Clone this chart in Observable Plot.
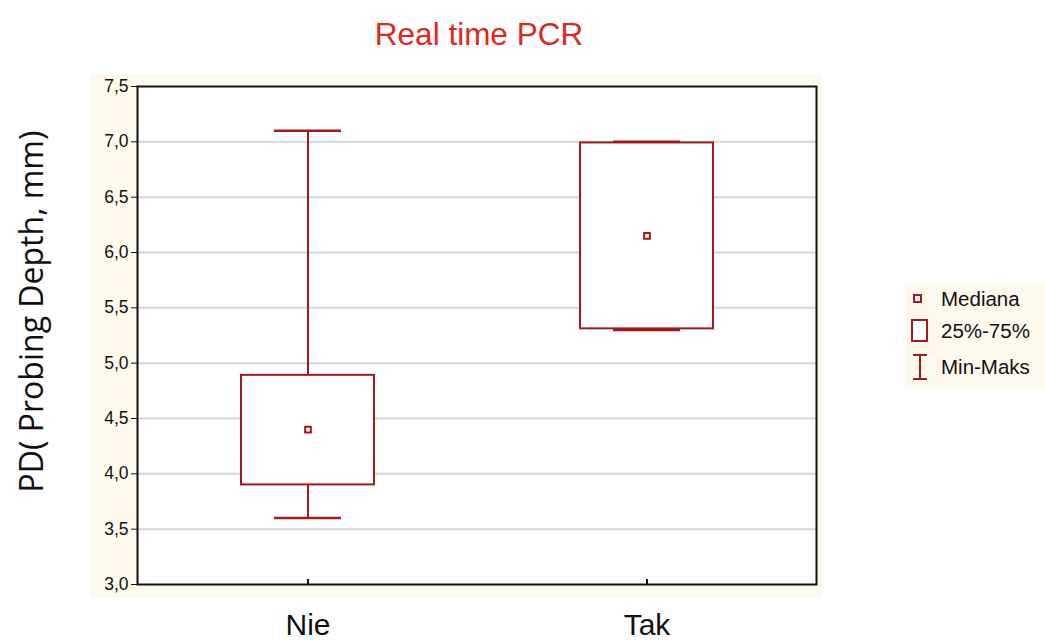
<!DOCTYPE html>
<html>
<head>
<meta charset="utf-8">
<script src="https://cdn.jsdelivr.net/npm/d3@7"></script>
<script src="https://cdn.jsdelivr.net/npm/@observablehq/plot@0.6"></script>
<style>
  html, body { margin: 0; padding: 0; background: #fff; }
  #wrap { position: relative; width: 1045px; height: 640px; }
  #legend {
    position: absolute; left: 905px; top: 283px; width: 140px; height: 106px;
    background: #fdf9ec; font-family: "Liberation Sans", Arial, sans-serif;
    font-size: 20.5px; color: #111;
  }
  #legend .item { position: absolute; left: 0; display: flex; align-items: center; }
  #legend svg { display: block; }
</style>
</head>
<body>
<div id="wrap">
  <div id="chart"></div>
  <div id="legend"></div>
</div>
<script>
// Groups and five-number summaries of PD (probing depth, mm)
const groups  = ["Nie", "Tak"];
const mins    = [3.6, 5.3];
const q1s     = [3.9, 5.31];
const medians = [4.4, 6.15];
const q3s     = [4.89, 6.99];
const maxs    = [7.1, 7.0];
const yTicks  = [3.0, 3.5, 4.0, 4.5, 5.0, 5.5, 6.0, 6.5, 7.0, 7.5];

const title  = "Real time PCR";
const yLabel = "PD( Probing Depth, mm)";
const legendLabels = ["Mediana", "25%-75%", "Min-Maks"];

const data = groups.map((g, i) => ({
  group: g, min: mins[i], q1: q1s[i], median: medians[i], q3: q3s[i], max: maxs[i]
}));

const red = "#a01a1d";
const fmt = d => d.toFixed(1).replace(".", ",");

const chart = Plot.plot({
  width: 1045,
  height: 640,
  marginLeft: 137,
  marginRight: 229,
  marginTop: 86,
  marginBottom: 56,
  style: { fontFamily: "'Liberation Sans', Arial, sans-serif", background: "transparent" },
  x: { domain: groups, type: "band", paddingInner: 0.608, paddingOuter: 0.304, align: 0.5 },
  y: { domain: [3, 7.5] },
  marks: [
    // cream panel behind the plot area
    Plot.frame({ fill: "#fdf9ec", insetLeft: -47, insetTop: -12, insetRight: -6, insetBottom: -13 }),
    Plot.frame({ fill: "white" }),
    Plot.gridY(yTicks.filter(t => t > 3 && t < 7.5), { stroke: "#d6d6d6", strokeOpacity: 1, strokeWidth: 2 }),
    // whiskers
    Plot.ruleX(data, { x: "group", y1: "min", y2: "q1", stroke: red, strokeWidth: 2 }),
    Plot.ruleX(data, { x: "group", y1: "q3", y2: "max", stroke: red, strokeWidth: 2 }),
    Plot.tickY(data, { x: "group", y: "min", stroke: red, strokeWidth: 2.5, insetLeft: 33, insetRight: 33 }),
    Plot.tickY(data, { x: "group", y: "max", stroke: red, strokeWidth: 2.5, insetLeft: 33, insetRight: 33 }),
    // interquartile boxes
    Plot.barY(data, { x: "group", y1: "q1", y2: "q3", fill: "white", stroke: red, strokeWidth: 2 }),
    // medians
    Plot.dot(data, { x: "group", y: "median", symbol: "square", r: 3.2, fill: "white", stroke: red, strokeWidth: 2 }),
    Plot.frame({ stroke: "#111", strokeWidth: 2 }),
    // small tick marks at the category positions, pointing into the plot
    Plot.ruleX(groups, { x: d => d, insetTop: 493, stroke: "#111", strokeWidth: 2 }),
    Plot.axisY({ ticks: yTicks, tickFormat: fmt, tickSize: 6, tickPadding: 3, fontSize: 17.5, label: null, color: "#111" }),
    Plot.axisX({ tickSize: 0, tickPadding: 29, fontSize: 30, label: null, color: "#111" }),
    Plot.text([yLabel], { frameAnchor: "left", textAnchor: "middle", rotate: -90, dx: -105, dy: -24, fontSize: 32,
      fontFamily: "'Open Sans', sans-serif", fill: "#111" }),
    Plot.text([title], { frameAnchor: "top", dx: 2, dy: -64, fontSize: 31.5, fill: "#e2271c" })
  ]
});
document.getElementById("chart").appendChild(chart);

// Legend: median marker, quartile box, min–max whisker
const legend = document.getElementById("legend");
const icons = [
  `<svg width="30" height="24"><rect x="9" y="8" width="7" height="7" fill="white" stroke="${red}" stroke-width="2"/></svg>`,
  `<svg width="30" height="26"><rect x="7" y="2" width="15" height="21" fill="white" stroke="${red}" stroke-width="2"/></svg>`,
  `<svg width="30" height="28"><path d="M8,2H22M15,2V26M8,26H22" fill="none" stroke="${red}" stroke-width="2"/></svg>`
];
const tops = [4, 35, 70];
legendLabels.forEach((t, i) => {
  const div = document.createElement("div");
  div.className = "item";
  div.style.top = tops[i] + "px";
  div.innerHTML = icons[i] + `<span style="margin-left:6px">${t}</span>`;
  legend.appendChild(div);
});
</script>
</body>
</html>
